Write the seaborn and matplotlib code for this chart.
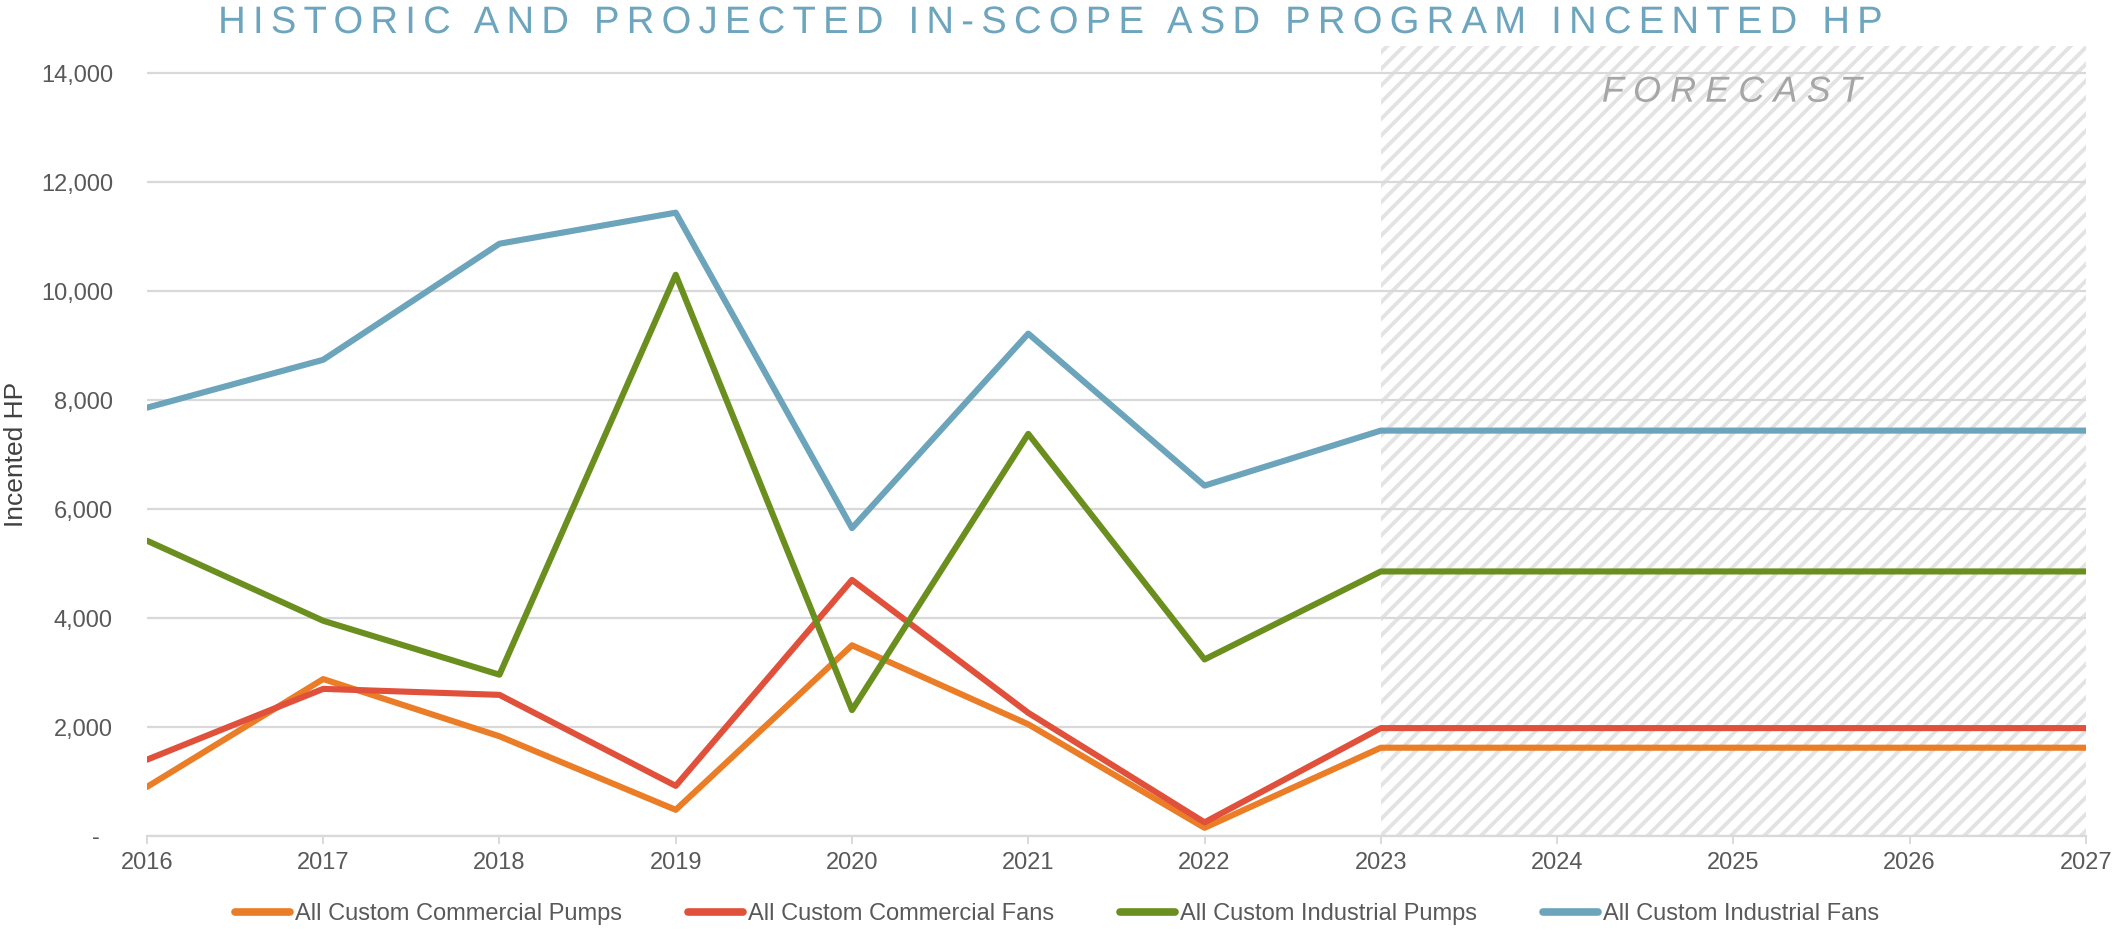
import matplotlib
matplotlib.use("Agg")
import matplotlib.pyplot as plt
from matplotlib.ticker import FuncFormatter
from matplotlib.patheffects import AbstractPathEffect
from matplotlib.path import Path
import numpy as np
import pandas as pd
import seaborn as sns

# values
years = [2016, 2017, 2018, 2019, 2020, 2021, 2022, 2023, 2024, 2025, 2026, 2027]
comm_pumps = [900, 2880, 1830, 480, 3500, 2050, 150, 1620, 1620, 1620, 1620, 1620]
comm_fans = [1400, 2700, 2590, 920, 4700, 2260, 250, 1980, 1980, 1980, 1980, 1980]
ind_pumps = [5420, 3950, 2960, 10300, 2310, 7380, 3240, 4855, 4855, 4855, 4855, 4855]
ind_fans = [7860, 8740, 10870, 11440, 5650, 9220, 6430, 7440, 7440, 7440, 7440, 7440]
series_names = ["All Custom Commercial Pumps", "All Custom Commercial Fans",
                "All Custom Industrial Pumps", "All Custom Industrial Fans"]
forecast_start, forecast_end = 2023, 2027
y_ticks = [0, 2000, 4000, 6000, 8000, 10000, 12000, 14000]

colors = ["#EB7D27", "#E0503A", "#6A8F1F", "#6CA4BC"]


class LetterSpacing(AbstractPathEffect):
    """spread the glyphs of a centred text apart (spacing in em)"""

    def __init__(self, spacing, slant=0.0):
        super().__init__()
        self.sp = spacing * 100.0  # text path units: 1 em = 100
        self.slant = slant

    def draw_path(self, renderer, gc, tpath, affine, rgbFace=None):
        verts = tpath.vertices.copy()
        codes = tpath.codes
        # undo italic slant only for grouping the contours into glyphs
        xs = verts[:, 0] - self.slant * verts[:, 1]
        starts = list(np.where(codes == Path.MOVETO)[0]) + [len(codes)]
        subs = [(xs[a:b].min(), xs[a:b].max(), a, b)
                for a, b in zip(starts[:-1], starts[1:])]
        subs.sort()
        g, w, gmax = -1, 0, None
        shifts = []
        for xmin, xmax, a, b in subs:
            if gmax is None or xmin > gmax - 1:
                if gmax is not None and xmin - gmax > 20:
                    w += 1
                g += 1
                gmax = xmax
            else:
                gmax = max(gmax, xmax)
            shifts.append((a, b, (g + w) * self.sp))
        total = (g + w) * self.sp
        for a, b, s in shifts:
            verts[a:b, 0] += s - total / 2
        renderer.draw_path(gc, Path(verts, codes), affine, rgbFace)


rows = []
for name, vals in zip(series_names, [comm_pumps, comm_fans, ind_pumps, ind_fans]):
    for yr, v in zip(years, vals):
        rows.append({"Year": yr, "HP": v, "Series": name})
df = pd.DataFrame(rows)

sns.set_style("white")
plt.rcParams['font.family'] = ['Liberation Sans', 'DejaVu Sans']
plt.rcParams['hatch.color'] = '#E3E3E3'
plt.rcParams['hatch.linewidth'] = 2.8

fig = plt.figure(figsize=(21.14, 9.3), dpi=100)
ax = fig.add_axes([0.0695, 0.1011, 0.9172, 0.8495])

# forecast shading
ax.axvspan(forecast_start, forecast_end, facecolor='white', edgecolor='#E3E3E3',
           hatch='//', linewidth=0, zorder=0.3)

sns.lineplot(data=df, x="Year", y="HP", hue="Series", palette=colors,
             ax=ax, sort=False, zorder=3)
for ln in ax.lines:
    ln.set_linewidth(4.4)

ax.set_xlim(2016, 2027)
ax.set_ylim(0, 14500)
ax.set_xticks(years)
ax.set_yticks(y_ticks)
ax.yaxis.set_major_formatter(FuncFormatter(lambda v, p: "-  " if v == 0 else f"{v:,.0f}"))
ax.yaxis.grid(True, color='#D9D9D9', linewidth=1.6, zorder=0.5)
ax.set_axisbelow(True)
for s in ["top", "right", "left"]:
    ax.spines[s].set_visible(False)
ax.spines["bottom"].set_color('#D9D9D9')
ax.spines["bottom"].set_linewidth(1.6)
ax.tick_params(axis='x', bottom=True, length=5.5, width=1.4, color='#D9D9D9',
               labelsize=17, labelcolor='#595959', pad=6)
ax.tick_params(axis='y', left=False, labelsize=17, labelcolor='#595959', pad=21)
ax.set_xlabel("")
ax.set_ylabel("")

fig.text(16 / 2114, 1 - 454 / 930, "Incented HP", rotation=90, ha='center',
         va='center', fontsize=19, color='#404040')

fig.text(1051 / 2114, 1 - 33 / 930, "HISTORIC AND PROJECTED IN-SCOPE ASD PROGRAM INCENTED HP",
         ha='center', va='baseline', fontsize=27.5, color='#6CA5BD',
         path_effects=[LetterSpacing(0.19)])
fig.text(1732 / 2114, 1 - 101.7 / 930, "FORECAST", ha='center', va='baseline',
         fontsize=26, style='italic', color='#A6A6A6',
         path_effects=[LetterSpacing(0.25, slant=0.21)])

handles, labels = ax.get_legend_handles_labels()
ax.get_legend().remove()
leg = fig.legend(handles, labels, loc='center', bbox_to_anchor=(0.5, 0.017), ncol=4,
                 frameon=False, fontsize=17, handlelength=2.33, handletextpad=0.2,
                 columnspacing=2.8, labelcolor='#595959')
for h in leg.get_lines():
    h.set_linewidth(5.5)
    h.set_solid_capstyle('round')

fig.savefig("out.png", dpi=100)
